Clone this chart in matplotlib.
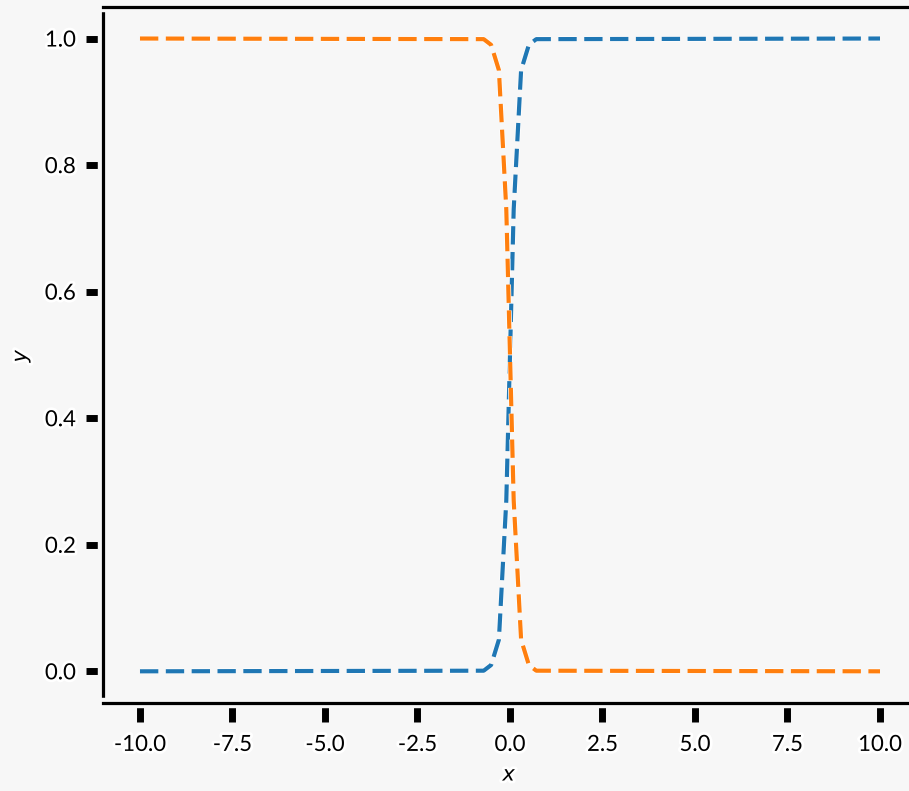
import matplotlib
matplotlib.use("Agg")
import matplotlib.pyplot as plt
import matplotlib.patheffects as pe

# valores
x_vals = [-10.0, -0.71, -0.51, -0.30, -0.10, 0.10, 0.30, 0.51, 0.71, 10.0]
azul_y = [0.0, 0.001, 0.01, 0.05, 0.27, 0.73, 0.95, 0.99, 0.999, 1.0]
naranja_y = [1.0, 0.999, 0.99, 0.95, 0.73, 0.27, 0.05, 0.01, 0.001, 0.0]

x_ticks = [-10.0, -7.5, -5.0, -2.5, 0.0, 2.5, 5.0, 7.5, 10.0]
y_ticks = [0.0, 0.2, 0.4, 0.6, 0.8, 1.0]

plt.xkcd()
plt.rcParams['path.sketch'] = None
plt.rcParams['font.family'] = ['Lato', 'DejaVu Sans']
plt.rcParams['font.size'] = 16

fondo = '#f7f7f7'
fig = plt.figure(figsize=(9.09, 7.91), dpi=100, facecolor=fondo)
ax = fig.add_axes([0.1133, 0.1113, 0.8955, 0.88], facecolor=fondo)

ax.plot(x_vals, azul_y, '--', color='#1f77b4', linewidth=3, dashes=(4.4, 1.8))
ax.plot(x_vals, naranja_y, '--', color='#ff7f0e', linewidth=3, dashes=(4.4, 1.8))

ax.set_xlim(-11, 11)
ax.set_ylim(-0.05, 1.05)
ax.set_xticks(x_ticks)
ax.set_xticklabels([f"{t:.1f}" for t in x_ticks])
ax.set_yticks(y_ticks)
ax.set_yticklabels([f"{t:.1f}" for t in y_ticks])
ax.tick_params(axis='x', length=14, width=5, pad=9)
ax.tick_params(axis='y', length=12.5, width=5, pad=7)

# espacio entre los ticks y los ejes, como en el original
for s in ax.spines.values():
    s.set_linewidth(2.3)
    s.set_path_effects([pe.withStroke(linewidth=7.5, foreground=fondo)])

ax.set_xlabel("$x$", fontsize=15, labelpad=7)
ax.set_ylabel("$y$", fontsize=15, labelpad=9)

fig.savefig("out.png", dpi=100, facecolor=fondo)
